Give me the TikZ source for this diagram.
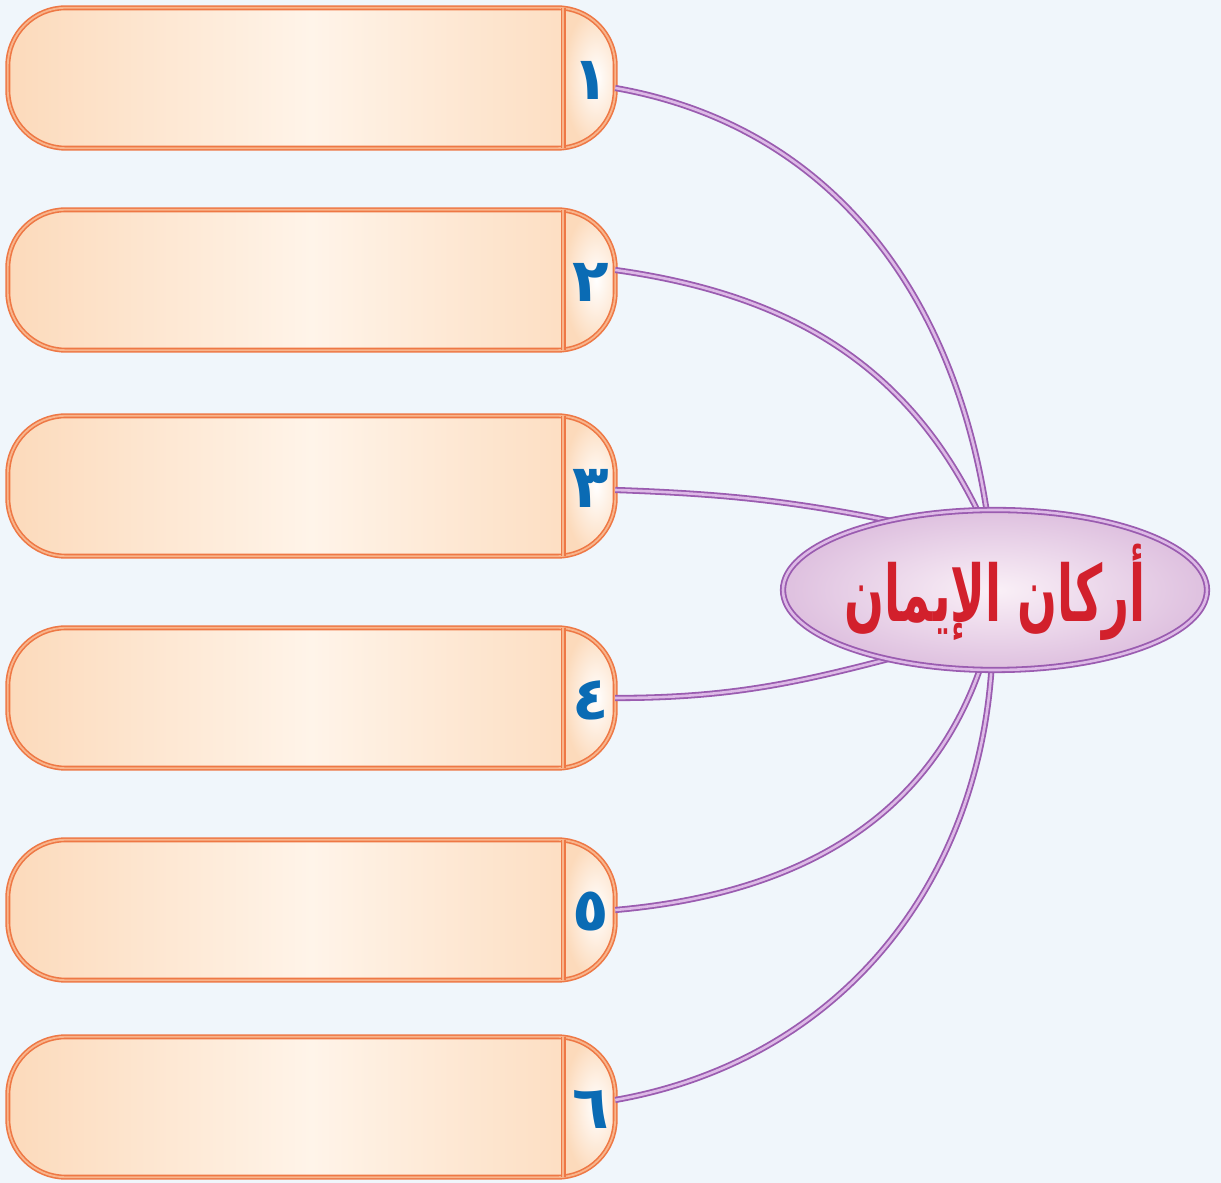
\documentclass[tikz,border=0pt]{standalone}
\usepackage{fontspec}
\TeXXeTstate=1
\newfontfamily\arabicfont[Script=Arabic]{DejaVu Sans}
\usetikzlibrary{shapes.geometric}
\definecolor{bgc}{HTML}{F0F6FB}
\definecolor{peach}{HTML}{FCDABB}
\definecolor{peachlight}{HTML}{FFF4E9}
\definecolor{orangeD}{HTML}{EE7845}
\definecolor{orangeL}{HTML}{F8B58C}
\definecolor{purpD}{HTML}{9A5CB0}
\definecolor{purpL}{HTML}{DDB9E6}
\definecolor{lav}{HTML}{DEC0DF}
\definecolor{lavlight}{HTML}{FAF0F7}
\definecolor{titlered}{HTML}{D2202C}
\definecolor{numblue}{HTML}{0A6BB4}
\tikzset{
  boxnode/.style={minimum width=607pt, minimum height=140pt, inner sep=0pt,
    rounded corners=58pt, left color=peach, right color=peach, middle color=peachlight},
  boxborder/.style={draw=orangeD, double=orangeL, line width=1.6pt, double distance=1.8pt},
  conn/.style={draw=purpD, double=purpL, line width=1.8pt, double distance=2.6pt},
  numtext/.style={text=numblue, font=\arabicfont\bfseries\fontsize{60}{64}\selectfont, inner sep=0pt},
  titlenode/.style={ellipse, minimum width=424pt, minimum height=160pt, inner sep=0pt,
    inner color=lavlight, outer color=lav, draw=purpD, double=purpL, line width=1.8pt,
    double distance=2.6pt},
  titletext/.style={text=titlered, inner sep=0pt, font=\arabicfont\bfseries\fontsize{78}{82}\selectfont}
}
\begin{document}
\begin{tikzpicture}[x=1pt,y=1pt]
\fill[bgc] (0,0) rectangle (1221,1183);
\useasboundingbox (0,0) rectangle (1221,1183);
\foreach \i/\y/\num in {1/1105/١,2/903/٢,3/697/٣,4/485/٤,5/273/٥,6/76/٦}{
  \node[boxnode, name=b\i] at (311.5,\y) {};
  \begin{scope}
    \clip[rounded corners=58pt] (b\i.south west) rectangle (b\i.north east);
    \shade[inner color=white, outer color=peach] ([xshift=-52pt]b\i.south east) rectangle ([xshift=14pt]b\i.north east);
  \end{scope}
  \draw[boxborder, rounded corners=58pt] (b\i.south west) rectangle (b\i.north east);
  \draw[boxborder] ([xshift=-52pt]b\i.north east) -- ([xshift=-52pt]b\i.south east);
  \node[numtext] (n\i) at ([xshift=-24pt,yshift=-2pt]b\i.east) {\beginR\num\endR};
}
\coordinate (ec) at (995,593);
\draw[conn] ([yshift=-10pt]b1.east) to[out=-10,in=98] ([shift={(-7pt,70pt)}]ec);
\draw[conn] ([yshift=10pt]b2.east) to[out=-8,in=115] ([shift={(-13pt,70pt)}]ec);
\draw[conn] ([yshift=-4pt]b3.east) to[out=-2,in=168] ([shift={(-70pt,62pt)}]ec);
\draw[conn] (b4.east) to[out=0,in=-165] ([shift={(-65pt,-58pt)}]ec);
\draw[conn] (b5.east) to[out=5,in=-108] ([shift={(-12pt,-70pt)}]ec);
\draw[conn] ([yshift=7pt]b6.east) to[out=10,in=-93] ([shift={(-3pt,-70pt)}]ec);
\node[titlenode] (e) at (ec) {};
\node[titletext] (t) at ([yshift=-2pt]ec) {\scalebox{0.6}[1]{\beginR أركان الإيمان\endR}};
\end{tikzpicture}
\end{document}
